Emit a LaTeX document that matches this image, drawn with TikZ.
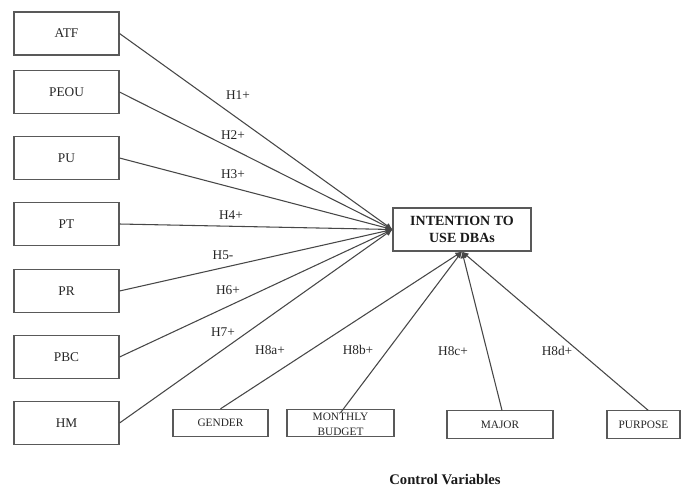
\documentclass[tikz,border=0pt]{standalone}
\usepackage{fontspec}
\setmainfont{Liberation Serif}
\usetikzlibrary{arrows.meta}
\begin{document}
\begin{tikzpicture}[x=0.75pt,y=-0.75pt,
  lbox/.style={draw=black!65, line width=0.8pt, minimum width=78.75pt, minimum height=32.25pt, inner sep=0pt, font=\fontsize{10}{12}\selectfont, text=black!85},
  cbox/.style={draw=black!65, line width=0.8pt, minimum height=20.5pt, inner sep=0pt, font=\fontsize{8.5}{9}\selectfont, text=black!85},
  ibox/.style={draw=black!65, line width=0.8pt, minimum width=103.5pt, minimum height=32.25pt, inner sep=0pt, align=center, font=\fontsize{10.5}{12.5}\selectfont\bfseries, text=black!90},
  link/.style={draw=black!72, line width=0.8pt, -{Latex[length=5pt,width=4.5pt]}},
  hlab/.style={font=\fontsize{10}{12}\selectfont, text=black!85, inner sep=0pt}]
\useasboundingbox (0,0) rectangle (683,487);
% left constructs
\node[lbox] (atf)  at (66.5,33.5)  {ATF};
\node[lbox] (peou) at (66.5,92)    {PEOU};
\node[lbox] (pu)   at (66.5,158)   {PU};
\node[lbox] (pt)   at (66.5,224)   {PT};
\node[lbox] (pr)   at (66.5,291)   {PR};
\node[lbox] (pbc)  at (66.5,357)   {PBC};
\node[lbox] (hm)   at (66.5,423)   {HM};
% dependent
\node[ibox] (int) at (462,229.5) {INTENTION TO\\USE DBAs};
% control variables
\node[cbox, minimum width=71.25pt] (gen) at (220.5,423) {GENDER};
\node[cbox, minimum width=80.25pt] (mb) at (340.5,423) {};
\node[font=\fontsize{8.5}{11}\selectfont, text=black!85, align=center, inner sep=0pt] (mbt) at (340.5,424.5) {MONTHLY\\BUDGET};
\node[cbox, minimum width=79.5pt] (maj) at (500,424.5) {MAJOR};
\node[cbox, minimum width=54.75pt] (pur) at (643.5,424.5) {PURPOSE};
\node[font=\fontsize{11}{13}\selectfont\bfseries, text=black!90] (cv) at (445,480) {Control Variables};
% paths
\draw[link] (atf.east)  -- (int.west);
\draw[link] (peou.east) -- (int.west);
\draw[link] (pu.east)   -- (int.west);
\draw[link] (pt.east)   -- (int.west);
\draw[link] (pr.east)   -- (int.west);
\draw[link] (pbc.east)  -- (int.west);
\draw[link] (hm.east)   -- (int.west);
\draw[link] (gen.north) -- (int.south);
\draw[link] ([yshift=-3pt]mb.north) -- (int.south);
\draw[link] ([xshift=1.5pt]maj.north) -- (int.south);
\draw[link] ([xshift=3.5pt]pur.north) -- (int.south);
% labels
\node[hlab] at (238,95)  {H1+};
\node[hlab] at (233,135) {H2+};
\node[hlab] at (233,174) {H3+};
\node[hlab] at (231,215) {H4+};
\node[hlab] at (223,255) {H5-};
\node[hlab] at (228,290) {H6+};
\node[hlab] at (223,332) {H7+};
\node[hlab] at (270,350) {H8a+};
\node[hlab] at (358,350) {H8b+};
\node[hlab] at (453,351) {H8c+};
\node[hlab] at (557,351) {H8d+};
\end{tikzpicture}
\end{document}
